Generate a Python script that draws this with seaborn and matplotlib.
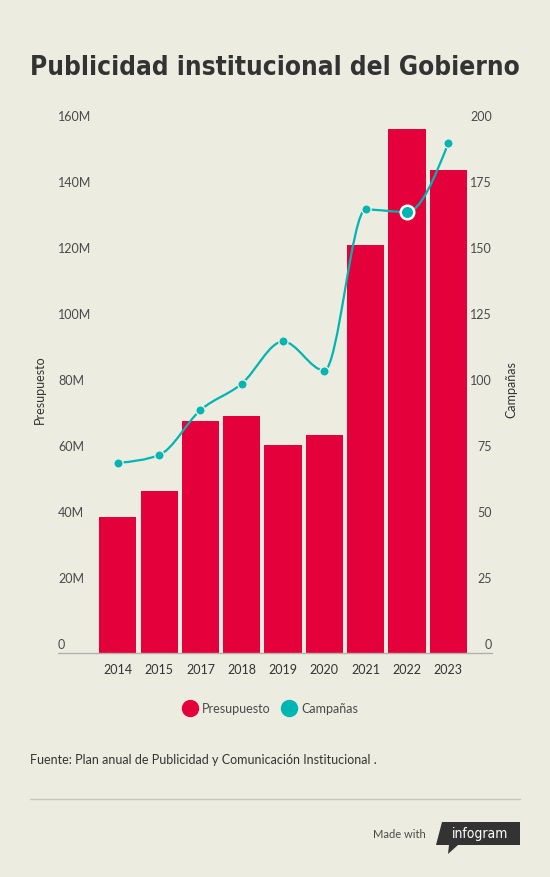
import matplotlib
matplotlib.use("Agg")
import matplotlib.pyplot as plt
import matplotlib.transforms as mtransforms
import seaborn as sns
import numpy as np
from matplotlib.path import Path
from matplotlib.patches import PathPatch, Polygon
from matplotlib.lines import Line2D

# datos
anios = ["2014", "2015", "2017", "2018", "2019", "2020", "2021", "2022", "2023"]
presupuesto_m = [41.2, 49.1, 70.3, 71.8, 63.0, 66.1, 123.6, 158.8, 146.4]  # millones
campanas = [72, 75, 92, 102, 118, 107, 168, 167, 193]

ticks_izq = [0, 20, 40, 60, 80, 100, 120, 140, 160]
etiquetas_izq = ["0", "20M", "40M", "60M", "80M", "100M", "120M", "140M", "160M"]
ticks_der = [0, 25, 50, 75, 100, 125, 150, 175, 200]

titulo = "Publicidad institucional del Gobierno"
fuente = "Fuente: Plan anual de Publicidad y Comunicación Institucional ."

BG = "#EDECE1"
RED = "#E4003B"
TEAL = "#00B5B2"
DARK = "#333333"
GREY = "#4a4a4a"

sns.set_style("white", {"axes.facecolor": BG, "figure.facecolor": BG})
plt.rcParams["font.family"] = ["Lato", "DejaVu Sans"]

W, H = 550, 878


def fx(px):
    return px / W


def fy(py):
    return 1 - py / H


def monotone_path(x, y):
    # curva monótona (como d3 curveMonotoneX) dibujada con béziers
    x = np.asarray(x, float)
    y = np.asarray(y, float)
    h = np.diff(x)
    s = np.diff(y) / h
    n = len(x)
    m = np.zeros(n)
    for i in range(1, n - 1):
        p = (s[i - 1] * h[i] + s[i] * h[i - 1]) / (h[i - 1] + h[i])
        m[i] = (np.sign(s[i - 1]) + np.sign(s[i])) * min(abs(s[i - 1]), abs(s[i]), 0.5 * abs(p))
    m[0] = (3 * s[0] - m[1]) / 2
    m[-1] = (3 * s[-1] - m[-2]) / 2
    verts = [(x[0], y[0])]
    codes = [Path.MOVETO]
    for i in range(n - 1):
        d = h[i] / 3
        verts += [(x[i] + d, y[i] + m[i] * d), (x[i + 1] - d, y[i + 1] - m[i + 1] * d), (x[i + 1], y[i + 1])]
        codes += [Path.CURVE4] * 3
    return Path(verts, codes)


fig = plt.figure(figsize=(5.5, 8.78), dpi=100, facecolor=BG)
ax = fig.add_axes([fx(97.2), fy(654), (468.9 - 97.2) / W, (654 - 126) / H])

sns.barplot(x=anios, y=presupuesto_m, color=RED, saturation=1, width=0.9,
            errorbar=None, edgecolor="none", ax=ax)
ax.set_xlim(-0.5, 8.5)
ax.set_ylim(0, 160)
ax.set_yticks([])
ax.set_ylabel("")
ax.set_xlabel("")
ax.tick_params(axis="x", length=0, pad=7.5, labelsize=9, labelcolor=DARK)
for sp in ax.spines.values():
    sp.set_visible(False)

ax2 = ax.twinx()
ax2.set_ylim(0, 200)
ax2.set_yticks([])
for sp in ax2.spines.values():
    sp.set_visible(False)

pos = np.arange(len(anios))
ax2.add_patch(PathPatch(monotone_path(pos, campanas), facecolor="none",
                        edgecolor=TEAL, lw=1.6, zorder=2))
sns.scatterplot(x=pos, y=campanas, ax=ax2, color=TEAL, s=45,
                edgecolor=BG, linewidth=1.0, zorder=3)
# punto resaltado (2022)
ax2.scatter([pos[7]], [campanas[7]], s=95, color=TEAL, edgecolor="white",
            linewidth=1.8, zorder=4)

# etiquetas de ejes (encima de su valor, como en infogram)
off = mtransforms.ScaledTranslation(0, 5 / 100, fig.dpi_scale_trans)
tr_izq = mtransforms.blended_transform_factory(fig.transFigure, ax.transData) + off
tr_der = mtransforms.blended_transform_factory(fig.transFigure, ax2.transData) + off
for v, lab in zip(ticks_izq, etiquetas_izq):
    fig.text(fx(58), v, lab, transform=tr_izq, ha="left", va="baseline",
             fontsize=9, color=GREY)
for v in ticks_der:
    fig.text(fx(492), v, str(v), transform=tr_der, ha="right", va="baseline",
             fontsize=9, color=GREY)

fig.text(fx(40), fy(390), "Presupuesto", rotation=90, ha="center", va="center",
         fontsize=9, color=DARK)
fig.text(fx(511), fy(390), "Campañas", rotation=90, ha="center", va="center",
         fontsize=9, color=DARK)

# línea base
fig.add_artist(Line2D([fx(58), fx(492)], [fy(654), fy(654)], transform=fig.transFigure,
                      color="#b3b3ab", lw=1))

# título ajustado al ancho
t = fig.text(fx(275), fy(75), titulo, ha="center", va="baseline", fontsize=28,
             fontweight="bold", fontstretch="condensed", color=DARK,
             family=["DejaVu Sans"])
r = fig.canvas.get_renderer()
ancho = t.get_window_extent(r).width
t.set_fontsize(28 * min(1.3, 490 / ancho))

# leyenda
handles = [Line2D([], [], marker="o", ls="", color=RED, markersize=11.5),
           Line2D([], [], marker="o", ls="", color=TEAL, markersize=11.5)]
fig.legend(handles, ["Presupuesto", "Campañas"], loc="center",
           bbox_to_anchor=(fx(271), fy(709)), ncol=2, frameon=False,
           handletextpad=0.5, columnspacing=1.0, handlelength=1.0,
           fontsize=9, labelcolor=GREY)

fig.text(fx(30), fy(760), fuente, ha="left", va="center", fontsize=9, color=DARK)
fig.add_artist(Line2D([fx(30), fx(520)], [fy(800), fy(800)], transform=fig.transFigure,
                      color="#c9c8bf", lw=1))

# logo
fig.text(fx(426), fy(835), "Made with", ha="right", va="center", fontsize=8, color=GREY)
logo = [(436, 846), (442, 823), (520, 823), (520, 846), (458, 846), (448, 855), (449, 846)]
fig.add_artist(Polygon([(fx(a), fy(b)) for a, b in logo], closed=True,
                       transform=fig.transFigure, facecolor=DARK, edgecolor="none"))
fig.text(fx(480), fy(834), "infogram", ha="center", va="center", fontsize=10,
         fontstretch="condensed", color="white", family=["DejaVu Sans"])

fig.savefig("out.png", dpi=100, facecolor=BG)
